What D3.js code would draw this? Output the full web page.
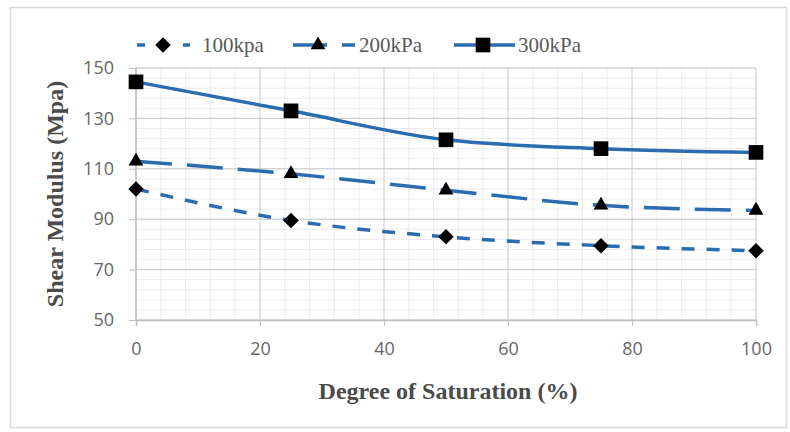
<!DOCTYPE html>
<html>
<head>
<meta charset="utf-8">
<script src="https://cdn.jsdelivr.net/npm/d3@7"></script>
<style>
  body { margin: 0; background: #fff; }
  svg { display: block; }
</style>
</head>
<body>
<script>
// data
const saturation = [0, 25, 50, 75, 100];
const kpa100 = [102, 89.5, 83, 79.5, 77.5];
const kpa200 = [113, 108, 101.5, 95.5, 93.5];
const kpa300 = [144.5, 133, 121.5, 118, 116.5];
const seriesNames = ["100kpa", "200kPa", "300kPa"];
const xTicks = [0, 20, 40, 60, 80, 100];
const yTicks = [50, 70, 90, 110, 130, 150];

var W = 790, H = 432;
var margin = { left: 136, right: 34, top: 68, bottom: 112 },
  width = W - margin.left - margin.right,
  height = H - margin.top - margin.bottom;

var blue = "#2b6cb0";

var svg = d3.select("body").append("svg").attr("width", W).attr("height", H);

// outer frame
svg.append("rect")
  .attr("x", 10.5).attr("y", 7.5)
  .attr("width", 776).attr("height", 420)
  .attr("fill", "white")
  .attr("stroke", "#d9d9d9")
  .attr("stroke-width", 1.5);

var g = svg.append("g").attr("transform", "translate(" + margin.left + "," + margin.top + ")");

var xScale = d3.scaleLinear().domain([0, 100]).range([0, width]);
var yScale = d3.scaleLinear().domain([50, 150]).range([height, 0]);

// minor grid
var minorX = d3.range(0, 101, 4).filter((v) => v % 20 !== 0);
var minorY = d3.range(50, 151, 4);
g.append("g").selectAll("line").data(minorX).enter().append("line")
  .attr("x1", (d) => xScale(d)).attr("x2", (d) => xScale(d))
  .attr("y1", 0).attr("y2", height)
  .attr("stroke", "#ececec").attr("stroke-width", 1);
g.append("g").selectAll("line").data(minorY).enter().append("line")
  .attr("y1", (d) => yScale(d)).attr("y2", (d) => yScale(d))
  .attr("x1", 0).attr("x2", width)
  .attr("stroke", "#ececec").attr("stroke-width", 1);

// major grid
g.append("g").selectAll("line").data(xTicks).enter().append("line")
  .attr("x1", (d) => xScale(d)).attr("x2", (d) => xScale(d))
  .attr("y1", 0).attr("y2", height)
  .attr("stroke", "#c8c8c8").attr("stroke-width", 1);
g.append("g").selectAll("line").data(yTicks).enter().append("line")
  .attr("y1", (d) => yScale(d)).attr("y2", (d) => yScale(d))
  .attr("x1", 0).attr("x2", width)
  .attr("stroke", "#c8c8c8").attr("stroke-width", 1);

// axes
var xAxis = d3.axisBottom(xScale).tickValues(xTicks).tickSize(6).tickPadding(16);
var yAxis = d3.axisLeft(yScale).tickValues(yTicks).tickSize(7).tickPadding(15);

var gX = g.append("g").attr("transform", "translate(0," + height + ")").call(xAxis);
var gY = g.append("g").call(yAxis);
[gX, gY].forEach((a) => {
  a.select(".domain").attr("stroke", "#bfbfbf").attr("stroke-width", 1.5);
  a.selectAll(".tick line").attr("stroke", "#bfbfbf");
  a.selectAll(".tick text")
    .attr("fill", "#666666")
    .style("font-family", "'Open Sans', sans-serif")
    .style("font-size", "18px");
});
gY.select(".domain").remove();
gY.append("line").attr("x1", 0).attr("x2", 0).attr("y1", 0).attr("y2", height)
  .attr("stroke", "#bfbfbf").attr("stroke-width", 1.5);

// axis titles
svg.append("text")
  .attr("x", margin.left + width / 2 + 2)
  .attr("y", 399)
  .attr("text-anchor", "middle")
  .style("font-family", "'Liberation Serif', serif")
  .style("font-weight", "bold")
  .style("font-size", "24px")
  .attr("fill", "#4a4a4a")
  .text("Degree of Saturation (%)");

svg.append("text")
  .attr("transform", "translate(63," + (margin.top + height / 2) + ") rotate(-90)")
  .attr("text-anchor", "middle")
  .style("font-family", "'Liberation Serif', serif")
  .style("font-weight", "bold")
  .style("font-size", "24px")
  .attr("fill", "#4a4a4a")
  .text("Shear Modulus (Mpa)");

// series
var series = [
  { name: seriesNames[0], values: kpa100, dash: "13,12", symbol: d3.symbolSquare, size: 121, rot: 45 },
  { name: seriesNames[1], values: kpa200, dash: "36,15", symbol: d3.symbolTriangle, size: 95, rot: 0 },
  { name: seriesNames[2], values: kpa300, dash: null, symbol: d3.symbolSquare, size: 215, rot: 0 },
];

var line = d3.line()
  .x((d, i) => xScale(saturation[i]))
  .y((d) => yScale(d))
  .curve(d3.curveMonotoneX);

series.forEach((s) => {
  g.append("path")
    .attr("d", line(s.values))
    .attr("fill", "none")
    .attr("stroke", blue)
    .attr("stroke-width", 3.5)
    .attr("stroke-dasharray", s.dash);
  g.selectAll(null).data(s.values).enter().append("path")
    .attr("transform", (d, i) => "translate(" + xScale(saturation[i]) + "," + yScale(d) + ") rotate(" + s.rot + ")")
    .attr("d", d3.symbol().type(s.symbol).size(s.size))
    .attr("fill", "black");
});

// legend
var legendX = [137, 293, 454];
var legendW = [53, 62, 61];
var legendDash = ["8,38,7", "34,15", null];
var legendMark = [26, 25, 29];
var legendText = [65, 66, 64];
var legendY = 45;
series.forEach((s, i) => {
  var lg = svg.append("g").attr("transform", "translate(" + legendX[i] + "," + legendY + ")");
  lg.append("line")
    .attr("x1", 0).attr("x2", legendW[i]).attr("y1", 0).attr("y2", 0)
    .attr("stroke", blue).attr("stroke-width", 3.5)
    .attr("stroke-dasharray", legendDash[i]);
  lg.append("path")
    .attr("transform", "translate(" + legendMark[i] + ",0) rotate(" + s.rot + ")")
    .attr("d", d3.symbol().type(s.symbol).size(s.size))
    .attr("fill", "black");
  lg.append("text")
    .attr("x", legendText[i]).attr("y", 0).attr("dy", "0.35em")
    .style("font-family", "'Liberation Serif', serif")
    .style("font-size", "21px")
    .attr("fill", "#595959")
    .text(s.name);
});
</script>
</body>
</html>
